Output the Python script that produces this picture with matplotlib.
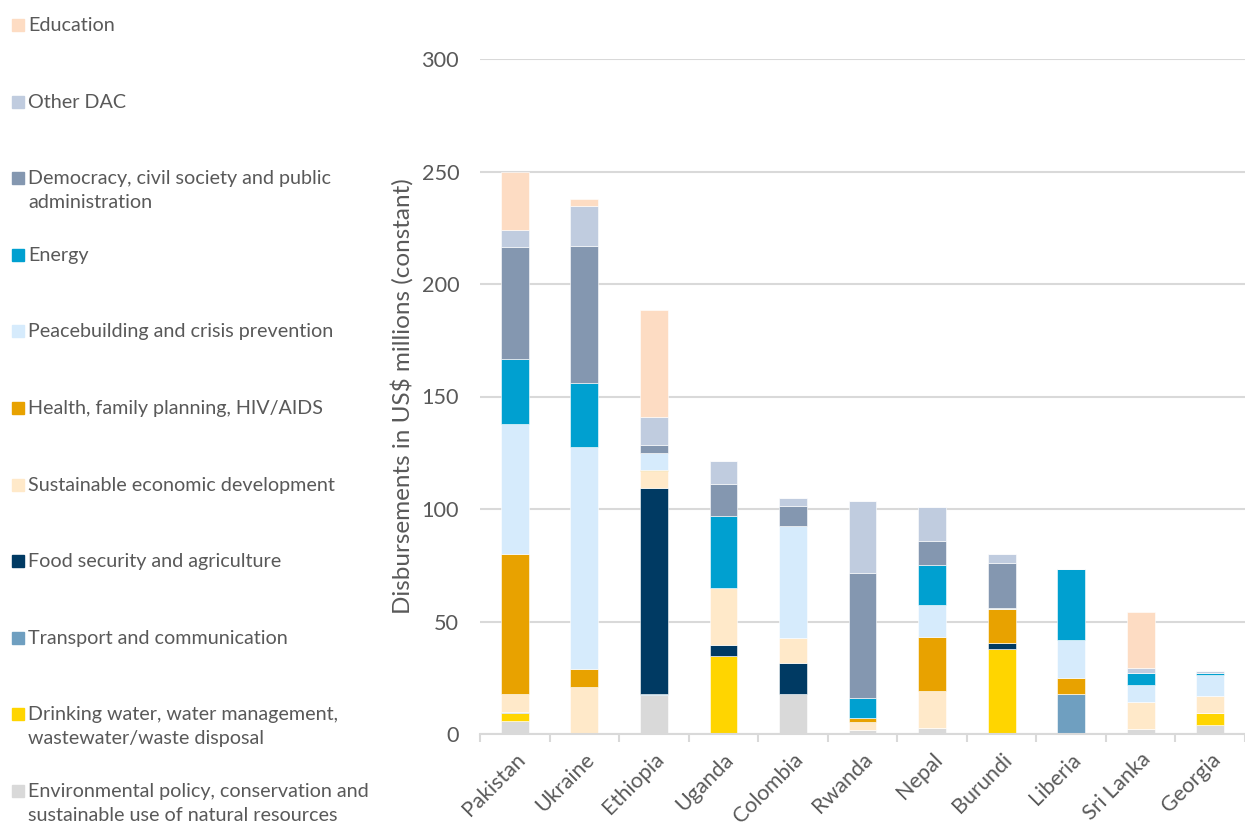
import numpy as np
import matplotlib.pyplot as plt
from matplotlib.patches import Rectangle

plt.rcParams['font.family'] = ['Lato', 'DejaVu Sans']

countries = ['Pakistan', 'Ukraine', 'Ethiopia', 'Uganda', 'Colombia', 'Rwanda',
             'Nepal', 'Burundi', 'Liberia', 'Sri Lanka', 'Georgia']

# stacked bottom to top
environment = [5.9, 0, 17.3, 0, 17.8, 1.8, 2.5, 0, 0.4, 2.2, 4.1]
water = [3.3, 0, 0, 34.7, 0, 0, 0, 37.6, 0, 0, 5.2]
transport = [0.7, 0, 0.3, 0, 0, 0, 0, 0, 17.5, 0, 0]
food = [0, 0, 91.6, 4.9, 13.6, 0, 0, 3.0, 0, 0, 0]
sust_econ = [7.7, 21.0, 7.6, 25.1, 11.1, 3.4, 16.6, 0, 0, 12.2, 7.6]
health = [62.5, 7.9, 0.5, 0, 0, 1.8, 24.2, 15.1, 7.1, 0, 0]
peace = [57.8, 98.5, 7.8, 0, 49.9, 0, 14.0, 0.5, 16.8, 7.4, 9.2]
energy = [28.9, 28.7, 0, 32.3, 0, 8.9, 17.8, 0, 31.4, 5.2, 1.2]
democracy = [49.8, 60.8, 3.4, 14.0, 9.1, 55.8, 10.8, 19.8, 0, 0, 0]
other_dac = [7.4, 17.9, 12.5, 10.3, 3.5, 32.0, 14.8, 4.2, 0, 2.5, 0.7]
education = [26.0, 3.2, 47.5, 0, 0, 0, 0, 0, 0, 24.9, 0]

series = [environment, water, transport, food, sust_econ, health,
          peace, energy, democracy, other_dac, education]
labels = ['Environmental policy, conservation and\nsustainable use of natural resources',
          'Drinking water, water management,\nwastewater/waste disposal',
          'Transport and communication',
          'Food security and agriculture',
          'Sustainable economic development',
          'Health, family planning, HIV/AIDS',
          'Peacebuilding and crisis prevention',
          'Energy',
          'Democracy, civil society and public\nadministration',
          'Other DAC',
          'Education']
colors = ['#D9D9D9', '#FFD500', '#6F9FC0', '#003A63', '#FFE9C9', '#E8A200',
          '#D6EBFC', '#00A0D0', '#8497B0', '#C0CCDF', '#FDDCC3']

grey = '#595959'
fig = plt.figure(figsize=(12.45, 8.26), dpi=100)
ax = fig.add_axes([480 / 1245, 92 / 826, 1 - 480 / 1245, 675 / 826])

x = np.arange(len(countries))
bottom = np.zeros(len(countries))
for vals, c in zip(series, colors):
    vals = np.array(vals)
    ax.bar(x, vals, 0.4, bottom=bottom, color=c, edgecolor='white', linewidth=0.4)
    bottom += vals

ax.set_ylim(0, 300)
ax.set_xlim(-0.5, 10.32)
ax.set_yticks(np.arange(0, 301, 50))
ax.yaxis.grid(True, color='#D9D9D9', linewidth=1.5)
ax.set_axisbelow(True)
for s in ['top', 'right', 'left']:
    ax.spines[s].set_visible(False)
ax.spines['bottom'].set_color('#D9D9D9')
ax.spines['bottom'].set_linewidth(1.5)
ax.tick_params(axis='y', length=0, labelsize=15.6, labelcolor=grey, pad=15)
ax.set_xticks(x)
ax.set_xticklabels(countries, rotation=45, ha='right', rotation_mode='anchor',
                   fontsize=15.5, color=grey)
ax.tick_params(axis='x', which='major', length=0, pad=11)
ax.set_xticks(np.arange(-0.5, 10.6, 1), minor=True)
ax.tick_params(axis='x', which='minor', length=6, width=1.5, color='#D9D9D9')
ax.set_ylabel('Disbursements in US$ millions (constant)', fontsize=17.5, color=grey,
              labelpad=6)

# legend on the left, top entry is the top of the stack
ys = [25 + 76.6 * i for i in range(len(labels))]
for y, lab, c in zip(ys, labels[::-1], colors[::-1]):
    fig.add_artist(Rectangle((12 / 1245, 1 - (y + 6) / 826), 12 / 1245, 12 / 826,
                             transform=fig.transFigure, color=c))
    fig.text(28 / 1245, 1 - (y - 8) / 826, lab, fontsize=14.2, color=grey,
             va='top', ha='left', linespacing=1.5)

fig.savefig('out.png', dpi=100)
